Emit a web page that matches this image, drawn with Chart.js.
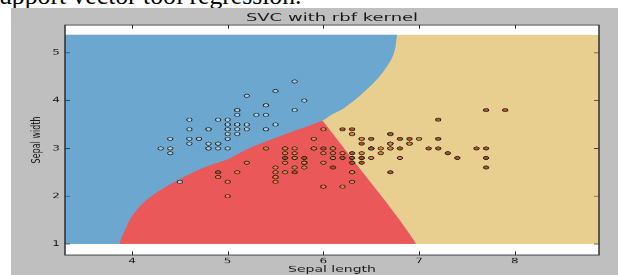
<!DOCTYPE html>
<html><head><meta charset="utf-8">
<script src="https://cdn.jsdelivr.net/npm/chart.js@4"></script>
<style>
html,body{margin:0;padding:0;background:#fff;width:618px;height:275px;overflow:hidden;}
#doc{position:absolute;left:0;top:0;width:618px;height:8px;overflow:hidden;}
#doc span{position:absolute;left:-1px;top:-17.5px;font-family:"Liberation Serif";font-size:25.7px;line-height:1;white-space:nowrap;color:#000;}
#fig{position:absolute;left:11px;top:8px;width:607px;height:267px;background:#bfbfbf;}
#wrap{position:absolute;left:0;top:0;width:618px;height:444px;transform:scaleY(0.6194);transform-origin:0 0;}
</style></head><body>
<div id="doc"><span>upport vector tool regression.</span></div>
<div id="fig"></div>
<div id="wrap"><canvas id="c" width="618" height="444"></canvas></div>
<script>
// Iris sepal measurements by class
const setosaL = [5.1,4.9,4.7,4.6,5.0,5.4,4.6,5.0,4.4,4.9,5.4,4.8,4.8,4.3,5.8,5.7,5.4,5.1,5.7,5.1,5.4,5.1,4.6,5.1,4.8,5.0,5.0,5.2,5.2,4.7,4.8,5.4,5.2,5.5,4.9,5.0,5.5,4.9,4.4,5.1,5.0,4.5,4.4,5.0,5.1,4.8,5.1,4.6,5.3,5.0];
const setosaW = [3.5,3.0,3.2,3.1,3.6,3.9,3.4,3.4,2.9,3.1,3.7,3.4,3.0,3.0,4.0,4.4,3.9,3.5,3.8,3.8,3.4,3.7,3.6,3.3,3.4,3.0,3.4,3.5,3.4,3.2,3.1,3.4,4.1,4.2,3.1,3.2,3.5,3.6,3.0,3.4,3.5,2.3,3.2,3.5,3.8,3.0,3.8,3.2,3.7,3.3];
const versiL = [7.0,6.4,6.9,5.5,6.5,5.7,6.3,4.9,6.6,5.2,5.0,5.9,6.0,6.1,5.6,6.7,5.6,5.8,6.2,5.6,5.9,6.1,6.3,6.1,6.4,6.6,6.8,6.7,6.0,5.7,5.5,5.5,5.8,6.0,5.4,6.0,6.7,6.3,5.6,5.5,5.5,6.1,5.8,5.0,5.6,5.7,5.7,6.2,5.1,5.7];
const versiW = [3.2,3.2,3.1,2.3,2.8,2.8,3.3,2.4,2.9,2.7,2.0,3.0,2.2,2.9,2.9,3.1,3.0,2.7,2.2,2.5,3.2,2.8,2.5,2.8,2.9,3.0,2.8,3.0,2.9,2.6,2.4,2.4,2.7,2.7,3.0,3.4,3.1,2.3,3.0,2.5,2.6,3.0,2.6,2.3,2.7,3.0,2.9,2.9,2.5,2.8];
const virgL = [6.3,5.8,7.1,6.3,6.5,7.6,4.9,7.3,6.7,7.2,6.5,6.4,6.8,5.7,5.8,6.4,6.5,7.7,7.7,6.0,6.9,5.6,7.7,6.3,6.7,7.2,6.2,6.1,6.4,7.2,7.4,7.9,6.4,6.3,6.1,7.7,6.3,6.4,6.0,6.9,6.7,6.9,5.8,6.8,6.7,6.7,6.3,6.5,6.2,5.9];
const virgW = [3.3,2.7,3.0,2.9,3.0,3.0,2.5,2.9,2.5,3.6,3.2,2.7,3.0,2.5,2.8,3.2,3.0,3.8,2.6,2.2,3.2,2.8,2.8,2.7,3.3,3.2,2.8,3.0,2.8,3.0,2.8,3.8,2.8,2.8,2.6,3.0,3.4,3.1,3.0,3.1,3.1,3.1,2.7,3.2,3.3,3.0,2.5,3.0,3.4,3.0];

// Decision boundaries (ends run past the mesh edges)
const blueEdgeX = [3.84,3.87,3.93,4.01,4.19,4.54,4.82,5.00,5.21,5.59,5.99,6.08,6.22,6.43,6.60,6.73,6.77,6.79];
const blueEdgeY = [0.50,1.00,1.30,1.61,1.98,2.40,2.65,2.77,2.99,3.29,3.58,3.70,3.85,4.19,4.54,4.95,5.38,5.70];
const redTanX  = [5.75,5.99,6.38,6.64,6.78,6.97,7.02];
const redTanY  = [4.07,3.58,2.58,1.92,1.55,1.00,0.60];
const meshX = [3.3, 8.88];
const meshY = [1.0, 5.38];

const xTicks = [4,5,6,7,8];
const yTicks = [1,2,3,4,5];
const xRange = [3.3, 8.88];
const yRange = [0.77, 5.58];

const pts = (xs, ys) => xs.map((x, i) => ({x, y: ys[i]}));
const tanPoly = [{x:meshX[0],y:meshY[0]},{x:meshX[1],y:meshY[0]},{x:meshX[1],y:meshY[1]},{x:meshX[0],y:meshY[1]}];
const redPoly = pts(redTanX, redTanY).concat([{x:2,y:0.5},{x:2,y:redTanY[0]}]);
const bluePoly = pts(blueEdgeX, blueEdgeY).concat([{x:2,y:5.7},{x:2,y:0.5}]);

const region = (data, color, order, tension) => ({
  data, showLine: true, fill: 'shape', backgroundColor: color, tension,
  borderWidth: 0, borderColor: 'rgba(0,0,0,0)', pointRadius: 0, order
});
const scatter = (data, color) => ({
  data, backgroundColor: color, borderColor: '#1a1a1a', borderWidth: 1,
  pointRadius: 2.7, pointHoverRadius: 2.7, order: 0
});

const framePlugin = {
  id: 'frame',
  beforeDraw(chart) {
    const {ctx, chartArea: a} = chart;
    ctx.save();
    ctx.fillStyle = '#ffffff';
    ctx.fillRect(a.left, a.top, a.right - a.left, a.bottom - a.top);
    ctx.restore();
  },
  afterDatasetDraw(chart, args) {
    // keep the strips outside the decision mesh white
    if (args.index < 3) return;
    const {ctx, chartArea: a, scales: {y}} = chart;
    const yTop = y.getPixelForValue(meshY[1]);
    const yBot = y.getPixelForValue(meshY[0]);
    ctx.save();
    ctx.fillStyle = '#ffffff';
    ctx.fillRect(a.left, a.top, a.right - a.left, yTop - a.top);
    ctx.fillRect(a.left, yBot, a.right - a.left, a.bottom - yBot);
    ctx.restore();
  },
  afterDraw(chart) {
    const {ctx, chartArea: a, scales: {x, y}} = chart;
    ctx.save();
    ctx.strokeStyle = '#262626';
    ctx.lineWidth = 1;
    ctx.beginPath();
    xTicks.forEach(v => {
      const px = Math.round(x.getPixelForValue(v)) + 0.5;
      ctx.moveTo(px, a.bottom); ctx.lineTo(px, a.bottom - 6);
      ctx.moveTo(px, a.top); ctx.lineTo(px, a.top + 6);
    });
    yTicks.forEach(v => {
      const py = y.getPixelForValue(v);
      ctx.moveTo(a.left, py); ctx.lineTo(a.left + 5, py);
      ctx.moveTo(a.right, py); ctx.lineTo(a.right - 5, py);
    });
    ctx.stroke();
    ctx.lineWidth = 1.4;
    ctx.strokeRect(a.left, a.top, a.right - a.left, a.bottom - a.top);
    ctx.restore();
  }
};

Chart.defaults.font.family = 'DejaVu Sans';
new Chart(document.getElementById('c'), {
  type: 'scatter',
  data: {
    datasets: [
      scatter(pts(setosaL, setosaW), '#a6cee3'),
      scatter(pts(versiL, versiW), '#e8803a'),
      scatter(pts(virgL, virgW), '#ac5224'),
      region(bluePoly, '#6ba7cf', 10, 0.35),
      region(redPoly, '#ea585a', 20, 0.15),
      region(tanPoly, '#e8cf8f', 30, 0)
    ]
  },
  options: {
    responsive: false, animation: false, devicePixelRatio: 1,
    layout: {padding: {left: 0, right: 19, top: 0, bottom: 0}},
    events: [],
    plugins: {
      legend: {display: false},
      tooltip: {enabled: false},
      title: {
        display: true, text: 'SVC with rbf kernel', fullSize: false,
        color: '#1a1a1a', font: {size: 18, weight: 'normal'},
        padding: {top: 18.2, bottom: 0.6}
      }
    },
    scales: {
      x: {
        type: 'linear', min: xRange[0], max: xRange[1],
        afterBuildTicks: s => { s.ticks = xTicks.map(v => ({value: v})); },
        afterFit: s => { s.height = 32.3; },
        grid: {display: false, drawTicks: false},
        border: {display: false},
        ticks: {padding: 3, color: '#1a1a1a', font: {size: 12}},
        title: {display: true, text: 'Sepal length', color: '#1a1a1a', font: {size: 14}, padding: {top: 0, bottom: 0}}
      },
      y: {
        type: 'linear', min: yRange[0], max: yRange[1],
        afterBuildTicks: s => { s.ticks = yTicks.map(v => ({value: v})); },
        afterFit: s => { s.width = 65; },
        grid: {display: false, drawTicks: false},
        border: {display: false},
        ticks: {padding: 5, color: '#1a1a1a', font: {size: 12}},
        title: {display: true, text: 'Sepal width', color: '#1a1a1a', font: {size: 13}, padding: {top: 29.2, bottom: 0}}
      }
    }
  },
  plugins: [framePlugin]
});
</script></body></html>
